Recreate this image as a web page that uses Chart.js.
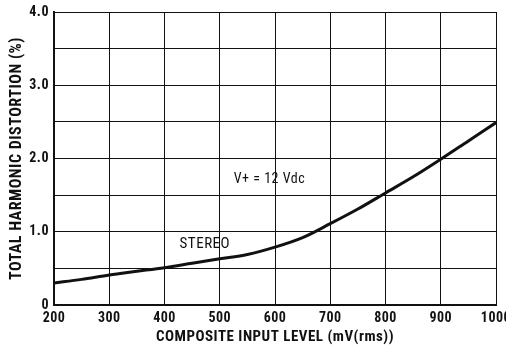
<!DOCTYPE html>
<html>
<head>
<meta charset="utf-8">
<script src="https://cdn.jsdelivr.net/npm/chart.js@4"></script>
<style>
  html, body { margin: 0; padding: 0; background: #fff; }
  #wrap { width: 506px; height: 351px; }
</style>
</head>
<body>
<div id="wrap"><canvas id="thdChart" width="506" height="351"></canvas></div>
<script>
// Input level (mV rms) and THD (%)
const inputLevels = [200, 250, 300, 350, 400, 450, 500, 550, 600, 650, 700, 750, 800, 850, 900, 950, 1000];
const thdValues = [0.30, 0.35, 0.41, 0.46, 0.51, 0.57, 0.63, 0.69, 0.79, 0.92, 1.11, 1.31, 1.53, 1.75, 1.99, 2.24, 2.49];
const yTickLabels = [0, 1, 2, 3, 4];

// Text notes placed in data space
const notes = [
  { text: "V+ = 12 Vdc", x: 590, y: 1.71, size: 14 },
  { text: "STEREO", x: 473, y: 0.83, size: 15 }
];

const FONT = "'Roboto Condensed', 'DejaVu Sans Condensed', sans-serif";
const INK = "#111";

// the old print type is a little more open than Roboto Condensed
const spacingPlugin = {
  id: "spacing",
  beforeDraw(chart) { chart.ctx.letterSpacing = "0.5px"; },
  afterDraw(chart) { chart.ctx.letterSpacing = "0px"; }
};

const notesPlugin = {
  id: "notes",
  afterDatasetsDraw(chart) {
    const { ctx, scales } = chart;
    ctx.save();
    ctx.fillStyle = INK;
    ctx.textAlign = "center";
    ctx.textBaseline = "middle";
    notes.forEach(n => {
      ctx.font = n.size + "px " + FONT;
      ctx.fillText(n.text, scales.x.getPixelForValue(n.x), scales.y.getPixelForValue(n.y));
    });
    ctx.restore();
  }
};

new Chart(document.getElementById("thdChart").getContext("2d"), {
  type: "line",
  data: {
    datasets: [{
      data: inputLevels.map((x, i) => ({ x, y: thdValues[i] })),
      borderColor: INK,
      borderWidth: 3,
      pointRadius: 0,
      cubicInterpolationMode: "monotone",
      fill: false
    }]
  },
  options: {
    responsive: false,
    animation: false,
    layout: { padding: { top: 12, right: 10, left: 0, bottom: 0 } },
    plugins: { legend: { display: false }, tooltip: { enabled: false } },
    scales: {
      x: {
        type: "linear",
        min: 200,
        max: 1000,
        border: { color: INK, width: 2 },
        grid: { color: INK, lineWidth: 1, drawTicks: false },
        ticks: {
          stepSize: 100,
          padding: 5,
          color: INK,
          font: { family: FONT, size: 14, weight: "bold" },
          callback: v => String(v)
        },
        title: {
          display: true,
          text: "COMPOSITE INPUT LEVEL (mV(rms))",
          color: INK,
          padding: { top: 2, bottom: 5 },
          font: { family: FONT, size: 15, weight: "bold" }
        },
        afterFit(s) { s.height = 46; s.paddingLeft = 0; s.paddingRight = 0; }
      },
      y: {
        min: 0,
        max: 4,
        border: { color: INK, width: 2 },
        grid: { color: INK, lineWidth: 1, drawTicks: false },
        ticks: {
          stepSize: 0.5,
          padding: 5,
          color: INK,
          font: { family: FONT, size: 14, weight: "bold" },
          callback: v => yTickLabels.includes(v) ? (v === 0 ? "0" : v.toFixed(1)) : ""
        },
        title: {
          display: true,
          text: "TOTAL HARMONIC DISTORTION (%)",
          color: INK,
          padding: { top: 7, bottom: 0 },
          font: { family: FONT, size: 16, weight: "bold" }
        },
        afterFit(s) { s.width = 54; s.paddingTop = 0; s.paddingBottom = 0; }
      }
    }
  },
  plugins: [spacingPlugin, notesPlugin]
});
</script>
</body>
</html>
